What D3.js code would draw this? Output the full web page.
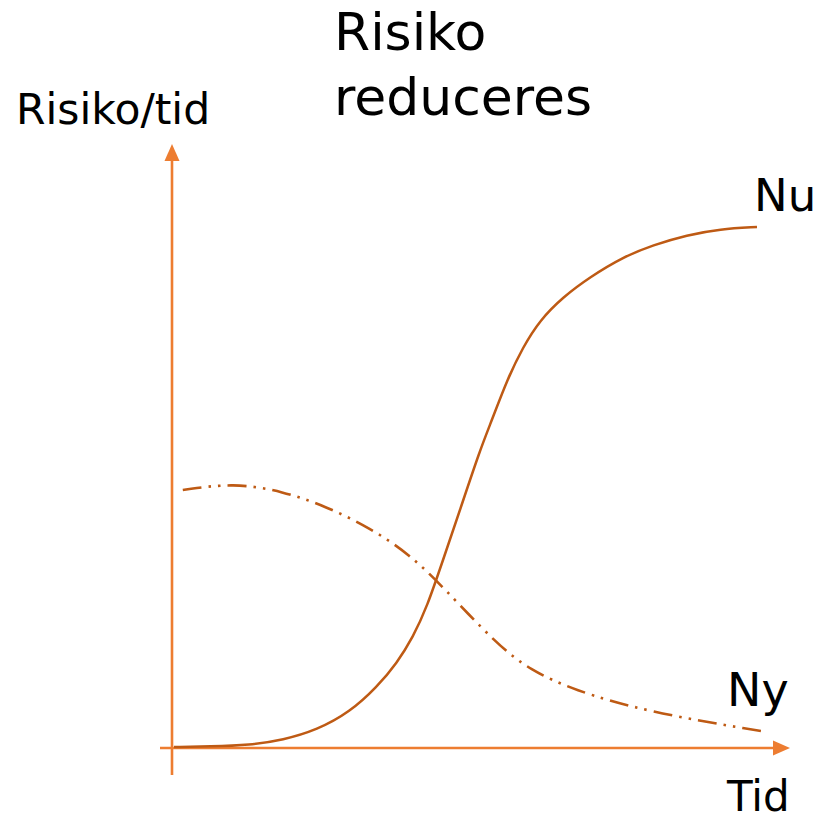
<!DOCTYPE html>
<html>
<head>
<meta charset="utf-8">
<script src="https://cdn.jsdelivr.net/npm/d3@7"></script>
<style>
  html, body { margin: 0; padding: 0; background: #ffffff; }
  svg { display: block; }
  text { font-family: "DejaVu Sans", Verdana, sans-serif; fill: #000; }
</style>
</head>
<body>
<svg id="chart" width="822" height="820"></svg>
<script>
// ---- data (time 0..100, risk 0..100) ----
const nuTime = [0.33, 6.33, 13, 18.5, 24.17, 29.67, 34.17, 37.5, 40.17, 42.5, 45.17, 48, 51.33, 53.33, 55.83, 58.5, 61.33, 65.17, 69.67, 75.17, 80.17, 85.83, 91.33, 97.5];
const nuRisk = [0.17, 0.25, 0.5, 1.33, 3, 6, 10.17, 14.17, 18.5, 23.5, 31.33, 39.67, 49.67, 54.67, 61.33, 66.83, 71.33, 75.17, 78.5, 81.83, 83.83, 85.5, 86.5, 86.83];
const nyTime = [1.8, 10.2, 18.5, 25.8, 33, 39.7, 45.2, 54.2, 59.7, 66.8, 79.2, 98.3];
const nyRisk = [43, 44.2, 42.8, 40.2, 36.7, 32.2, 26.8, 17.2, 13, 9.7, 6, 2.8];
const titleLines = ["Risiko", "reduceres"];
const yLabel = "Risiko/tid";
const xLabel = "Tid";
const seriesLabels = ["Nu", "Ny"];

const svg = d3.select("#chart");
const axisColor = "#ED7D31";
const lineColor = "#BE5A14";

const x = d3.scaleLinear().domain([0, 100]).range([172, 772]);
const y = d3.scaleLinear().domain([0, 100]).range([748, 148]);

// axes
const x0 = x(0), y0 = y(0);
svg.append("line")
  .attr("x1", x0).attr("x2", x0)
  .attr("y1", y(-4.5)).attr("y2", y(100) + 6)
  .attr("stroke", axisColor).attr("stroke-width", 2.6);
svg.append("path")
  .attr("d", `M${x0},${y(100) - 4} L${x0 - 7.5},${y(100) + 13} L${x0 + 7.5},${y(100) + 13} Z`)
  .attr("fill", axisColor);

svg.append("line")
  .attr("x1", x(-2)).attr("x2", x(100) + 4)
  .attr("y1", y0).attr("y2", y0)
  .attr("stroke", axisColor).attr("stroke-width", 2.6);
svg.append("path")
  .attr("d", `M${x(100) + 18},${y0} L${x(100) + 1},${y0 - 7.5} L${x(100) + 1},${y0 + 7.5} Z`)
  .attr("fill", axisColor);

// lines
const line = d3.line()
  .x(d => x(d[0])).y(d => y(d[1]))
  .curve(d3.curveBasis);

svg.append("path")
  .datum(nuTime.map((t, i) => [t, nuRisk[i]]))
  .attr("d", line)
  .attr("fill", "none")
  .attr("stroke", lineColor)
  .attr("stroke-width", 2.5);

svg.append("path")
  .datum(nyTime.map((t, i) => [t, nyRisk[i]]))
  .attr("d", line)
  .attr("fill", "none")
  .attr("stroke", lineColor)
  .attr("stroke-width", 2.6)
  .attr("stroke-dasharray", "19 7 2.5 7 2.5 7");

// texts
svg.append("text").attr("x", 334).attr("y", 50).attr("font-size", 52).text(titleLines[0]);
svg.append("text").attr("x", 334).attr("y", 115).attr("font-size", 52).text(titleLines[1]);
svg.append("text").attr("x", 16).attr("y", 124).attr("font-size", 42.5).text(yLabel);
svg.append("text").attr("x", 727).attr("y", 811).attr("font-size", 42).text(xLabel);
svg.append("text").attr("x", 754).attr("y", 211).attr("font-size", 45).text(seriesLabels[0]);
svg.append("text").attr("x", 727).attr("y", 706).attr("font-size", 46).text(seriesLabels[1]);
</script>
</body>
</html>
